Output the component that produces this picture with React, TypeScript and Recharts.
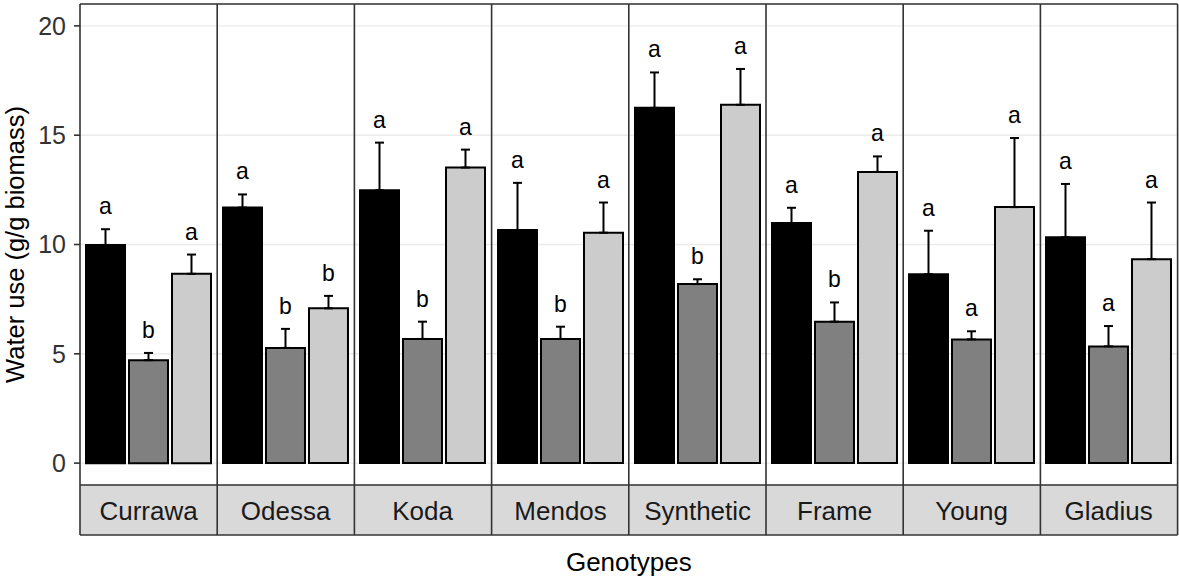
import { BarChart, Bar, XAxis, YAxis, CartesianGrid, ErrorBar, LabelList } from 'recharts';

const genotypes = ['Currawa', 'Odessa', 'Koda', 'Mendos', 'Synthetic', 'Frame', 'Young', 'Gladius'];

// treatment means and standard errors (g/g biomass), one entry per genotype
const meanBlack = [9.98, 11.69, 12.48, 10.66, 16.25, 10.98, 8.64, 10.33];
const seBlack = [0.72, 0.6, 2.18, 2.16, 1.62, 0.7, 1.99, 2.44];
const meanGrey = [4.71, 5.27, 5.68, 5.68, 8.19, 6.47, 5.66, 5.34];
const seGrey = [0.33, 0.87, 0.79, 0.56, 0.22, 0.88, 0.37, 0.93];
const meanLight = [8.66, 7.08, 13.52, 10.54, 16.39, 13.32, 11.71, 9.33];
const seLight = [0.88, 0.57, 0.82, 1.38, 1.64, 0.71, 3.16, 2.59];

// significance letters within each genotype
const lettersBlack = ['a', 'a', 'a', 'a', 'a', 'a', 'a', 'a'];
const lettersGrey = ['b', 'b', 'b', 'b', 'b', 'b', 'a', 'a'];
const lettersLight = ['a', 'b', 'a', 'a', 'a', 'a', 'a', 'a'];

const yTicks = [0, 5, 10, 15, 20];

const series = [
  { key: 'black', fill: '#000000', means: meanBlack, se: seBlack, letters: lettersBlack },
  { key: 'grey', fill: '#808080', means: meanGrey, se: seGrey, letters: lettersGrey },
  { key: 'light', fill: '#CCCCCC', means: meanLight, se: seLight, letters: lettersLight },
];

const rows = genotypes.map((g, i) => {
  const row: Record<string, any> = { genotype: g };
  series.forEach(s => {
    row[s.key] = s.means[i];
    row[s.key + 'Err'] = [0, s.se[i]];
    row[s.key + 'Se'] = s.se[i];
    row[s.key + 'Letter'] = s.letters[i];
  });
  return row;
});

const AXIS_W = 80;
const PANEL_W = 137.2;
const PLOT_TOP = 4;
const PLOT_BOTTOM = 485;
const STRIP_H = 50;
const CHART_H = PLOT_BOTTOM + STRIP_H + 1;
const LINE = '#333333';
const FONT = '"Liberation Sans", Arial, sans-serif';

function StripTick(props: any) {
  const { x, payload } = props;
  return (
    <g>
      <rect x={x - PANEL_W / 2} y={PLOT_BOTTOM} width={PANEL_W} height={STRIP_H} fill="#D9D9D9" />
      <text x={x} y={PLOT_BOTTOM + 35.5} textAnchor="middle" fontSize={26} fill="#1A1A1A">
        {payload.value}
      </text>
    </g>
  );
}

// letter sits a fixed gap above the top of the error bar
function letterLabel(row: Record<string, any>, key: string) {
  return (props: any) => {
    const vb = props.viewBox && props.viewBox.width != null ? props.viewBox : props;
    const { x, y, width, height } = vb;
    const pxPerUnit = Math.abs(height) / row[key];
    const top = Math.min(y, y + height) - row[key + 'Se'] * pxPerUnit;
    return (
      <text x={x + width / 2} y={top - 15} textAnchor="middle" fontSize={23} fill="#000">
        {row[key + 'Letter']}
      </text>
    );
  };
}

function Panel({ i }: { i: number }) {
  const row = rows[i];
  const first = i === 0;
  return (
    <div style={{ position: 'absolute', left: first ? 0 : AXIS_W + i * PANEL_W, top: 0 }}>
      <BarChart
        width={first ? AXIS_W + PANEL_W : PANEL_W}
        height={CHART_H}
        data={[row]}
        margin={{ top: PLOT_TOP, right: 0, bottom: 0, left: 0 }}
        barSize={39}
        barGap={4}
      >
        <CartesianGrid vertical={false} stroke="#EBEBEB" strokeWidth={1.4} />
        <XAxis
          dataKey="genotype"
          height={CHART_H - PLOT_BOTTOM}
          axisLine={false}
          tickLine={false}
          tick={StripTick}
          interval={0}
        />
        <YAxis
          hide={!first}
          width={AXIS_W}
          domain={[-1, 21]}
          ticks={yTicks}
          allowDataOverflow
          axisLine={false}
          tickSize={6}
          tickMargin={8}
          tickLine={{ stroke: LINE, strokeWidth: 1.6 }}
          tick={{ fill: '#333333', fontSize: 25 }}
        />
        {series.map(s => (
          <Bar key={s.key} dataKey={s.key} fill={s.fill} stroke="#000" strokeWidth={2} isAnimationActive={false}>
            <ErrorBar dataKey={s.key + 'Err'} width={4.5} stroke="#000" strokeWidth={2} direction="y" />
            <LabelList dataKey={s.key} content={letterLabel(row, s.key)} />
          </Bar>
        ))}
      </BarChart>
    </div>
  );
}

export default function App() {
  const right = AXIS_W + PANEL_W * genotypes.length;
  const seps = genotypes.map((_, k) => AXIS_W + k * PANEL_W).concat([right]);
  return (
    <div
      style={{
        position: 'absolute',
        left: 0,
        top: 0,
        width: 1179,
        height: 576,
        background: '#fff',
        fontFamily: FONT,
      }}
    >
      {genotypes.map((_, i) => (
        <Panel key={i} i={i} />
      ))}
      <svg
        width={1179}
        height={576}
        style={{ position: 'absolute', left: 0, top: 0, pointerEvents: 'none', fontFamily: FONT }}
      >
        {seps.map((sx, k) => (
          <line key={k} x1={sx} x2={sx} y1={PLOT_TOP} y2={PLOT_BOTTOM + STRIP_H} stroke={LINE} strokeWidth={1.6} />
        ))}
        {[PLOT_TOP, PLOT_BOTTOM, PLOT_BOTTOM + STRIP_H].map(ly => (
          <line key={ly} x1={AXIS_W} x2={right} y1={ly} y2={ly} stroke={LINE} strokeWidth={1.6} />
        ))}
        <text x={(AXIS_W + right) / 2} y={571} textAnchor="middle" fontSize={26} fill="#000">
          Genotypes
        </text>
        <text
          transform={`translate(23.5, ${(PLOT_TOP + PLOT_BOTTOM) / 2}) rotate(-90)`}
          textAnchor="middle"
          fontSize={25.5}
          fill="#000"
        >
          Water use (g/g biomass)
        </text>
      </svg>
    </div>
  );
}
